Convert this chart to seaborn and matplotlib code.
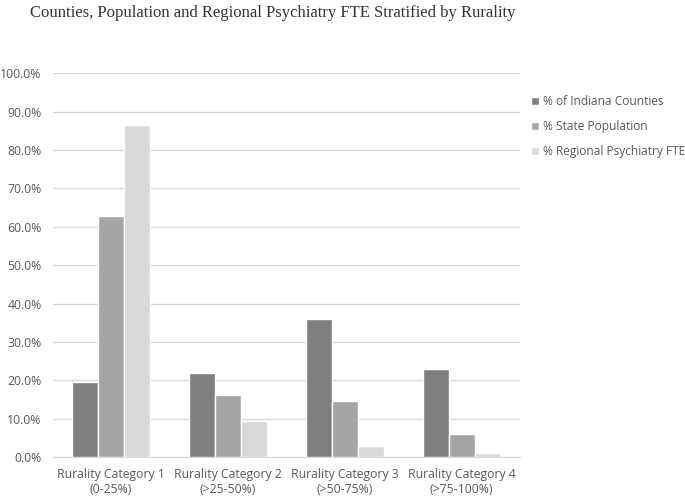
import pandas as pd
import matplotlib.pyplot as plt
import seaborn as sns
from matplotlib.ticker import PercentFormatter

# Data
categories = ["Rurality Category 1\n(0-25%)", "Rurality Category 2\n(>25-50%)",
              "Rurality Category 3\n(>50-75%)", "Rurality Category 4\n(>75-100%)"]
series = ["% of Indiana Counties", "% State Population", "% Regional Psychiatry FTE"]
counties = [19.5, 21.8, 35.9, 22.9]
population = [62.8, 16.2, 14.7, 6.0]
psych_fte = [86.6, 9.5, 2.9, 1.1]

data = pd.DataFrame({
    "Category": categories * 3,
    "Series": [series[0]] * 4 + [series[1]] * 4 + [series[2]] * 4,
    "Value": counties + population + psych_fte,
})

sns.set_style("white")
plt.rcParams['font.family'] = ['Open Sans', 'DejaVu Sans']

fig = plt.figure(figsize=(6.85, 4.98), dpi=100)
ax = fig.add_axes([0.077, 0.082, 0.682, 0.771])

palette = ["#7f7f7f", "#a5a5a5", "#d9d9d9"]
sns.barplot(data=data, x="Category", y="Value", hue="Series", palette=palette,
            width=0.667, saturation=1, ax=ax, legend=True)

ax.set_ylim(0, 100)
ax.set_yticks(range(0, 101, 10))
ax.yaxis.set_major_formatter(PercentFormatter(decimals=1))
ax.yaxis.grid(True, color="#d9d9d9", linewidth=1)
ax.set_axisbelow(True)
for s in ["top", "right", "left"]:
    ax.spines[s].set_visible(False)
ax.spines["bottom"].set_color("#d9d9d9")
ax.tick_params(axis="both", length=0, labelsize=8.8, colors="#595959", pad=8)
ax.set_xlabel("")
ax.set_ylabel("")

leg = ax.legend(loc="upper left", bbox_to_anchor=(1.0, 0.97), frameon=False,
                fontsize=8.6, handlelength=0.7, handleheight=0.7, handletextpad=0.3,
                labelspacing=1.0, labelcolor="#595959")

fig.text(0.044, 0.99, "Counties, Population and Regional Psychiatry FTE Stratified by Rurality",
         family="Liberation Serif", fontsize=12, color="#333333", va="top")

fig.savefig("out.png", dpi=100)
